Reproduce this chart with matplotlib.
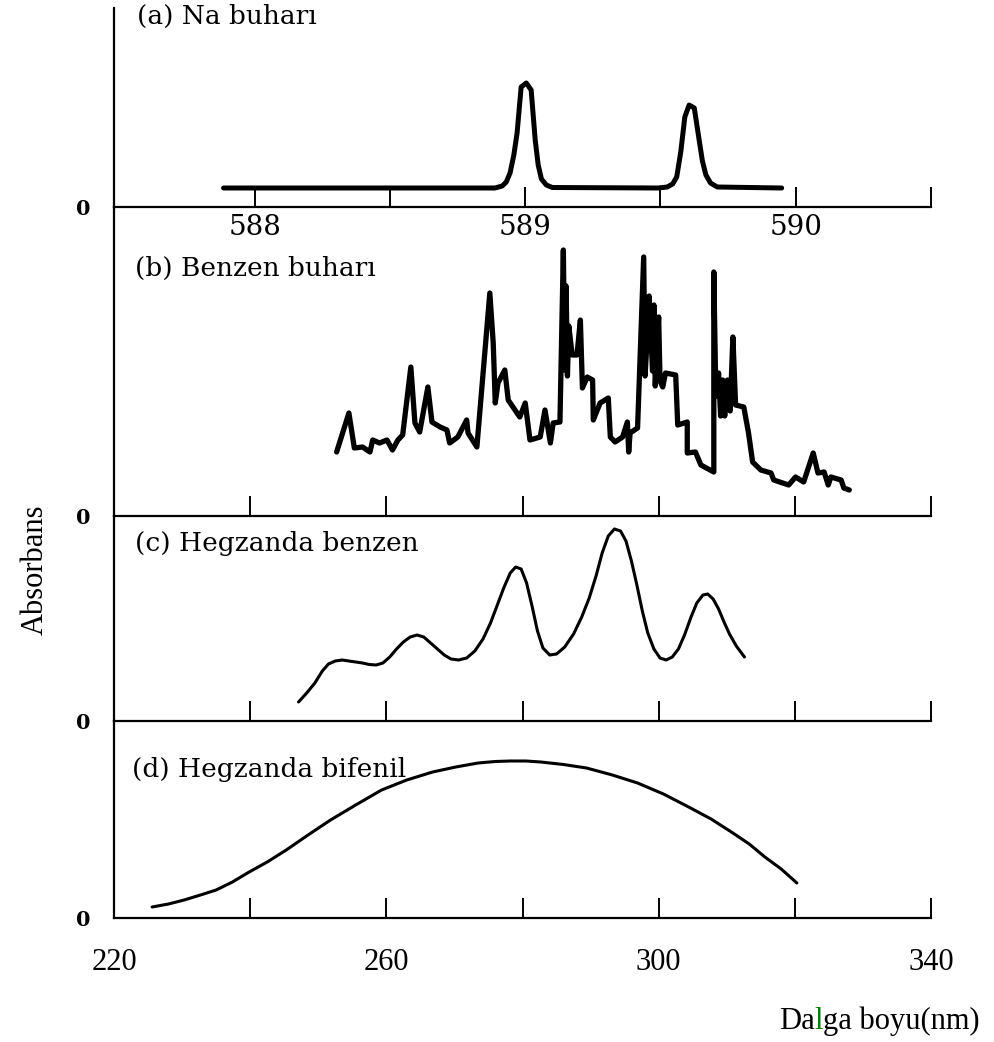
import matplotlib.pyplot as plt

# (a) Na buharı : dalga boyu (nm) / absorbans (keyfi birim)
na_dalga = [587.885, 588.888, 588.915, 588.930, 588.944, 588.958, 588.970, 588.985,
            589.004, 589.022, 589.037, 589.048, 589.060, 589.078, 589.100, 589.491,
            589.525, 589.545, 589.560, 589.575, 589.590, 589.606, 589.625, 589.643,
            589.655, 589.668, 589.685, 589.710, 589.948]
na_abs = [0.19, 0.19, 0.21, 0.25, 0.34, 0.52, 0.74, 1.20,
          1.24, 1.17, 0.67, 0.42, 0.28, 0.22, 0.195, 0.19,
          0.20, 0.23, 0.30, 0.55, 0.90, 1.02, 0.99, 0.67,
          0.46, 0.32, 0.24, 0.20, 0.19]

# (b) Benzen buharı
bb_dalga = [252.7, 254.5, 255.3, 256.5, 257.6, 258.0, 259.0, 260.1, 260.9, 261.7,
            262.4, 263.6, 264.2, 264.9, 266.1, 266.7, 267.9, 268.9, 269.3, 270.5,
            271.8, 272.0, 273.3, 275.2, 275.7, 276.0, 276.4, 277.4, 277.9, 278.6,
            279.6, 280.4, 281.1, 282.6, 283.3, 284.1, 284.5, 285.5, 286.0, 286.2,
            286.4, 286.6, 286.8, 287.3, 288.0, 288.5, 288.8, 289.5, 290.3, 290.4,
            291.4, 292.6, 292.9, 293.6, 294.7, 295.4, 295.6, 295.8, 296.9, 297.8,
            298.0, 298.3, 298.6, 299.1, 299.3, 299.5, 299.8, 300.0, 300.2, 300.6,
            301.0, 302.5, 302.8, 304.2, 304.2, 305.4, 306.2, 308.1, 308.1, 308.4,
            308.8, 309.1, 309.4, 309.7, 310.1, 310.5, 310.9, 311.3, 312.5, 313.2,
            313.8, 315.0, 316.5, 316.9, 319.1, 320.1, 321.3, 322.7, 323.4, 324.3,
            324.9, 325.3, 326.8, 327.2, 328.0]
bb_abs = [0.64, 1.03, 0.68, 0.69, 0.64, 0.76, 0.73, 0.76, 0.66, 0.76,
          0.81, 1.49, 0.93, 0.84, 1.29, 0.94, 0.89, 0.86, 0.73, 0.79,
          0.96, 0.83, 0.69, 2.23, 1.73, 1.13, 1.33, 1.46, 1.16, 1.09,
          0.99, 1.13, 0.76, 0.79, 1.06, 0.73, 0.93, 0.94, 2.66, 1.46,
          2.30, 1.40, 1.90, 1.61, 1.61, 1.96, 1.28, 1.39, 1.36, 0.96,
          1.13, 1.18, 0.79, 0.74, 0.79, 0.94, 0.64, 0.83, 0.88, 2.59,
          1.40, 1.76, 2.20, 1.45, 2.11, 1.30, 1.76, 1.99, 1.35, 1.29,
          1.43, 1.41, 0.91, 0.94, 0.63, 0.64, 0.51, 0.44, 2.44, 1.20,
          1.43, 1.00, 1.36, 1.00, 1.36, 1.05, 1.79, 1.11, 1.09, 0.83,
          0.54, 0.46, 0.43, 0.36, 0.31, 0.39, 0.34, 0.63, 0.43, 0.44,
          0.31, 0.39, 0.36, 0.28, 0.26]

# (c) Hegzanda benzen
hb_dalga = [247.1, 248.3, 249.5, 250.6, 251.5, 252.5, 253.5, 254.5, 255.5, 256.5,
            257.5, 258.5, 259.5, 260.5, 261.5, 262.5, 263.5, 264.5, 265.5, 266.5,
            267.5, 268.5, 269.5, 270.6, 271.8, 273.0, 274.2, 275.3, 276.3, 277.3,
            278.2, 279.0, 279.8, 280.6, 281.4, 282.2, 283.0, 284.0, 285.0, 286.2,
            287.5, 288.7, 289.8, 290.8, 291.7, 292.6, 293.5, 294.4, 295.2, 296.0,
            296.8, 297.6, 298.4, 299.3, 300.2, 301.1, 302.0, 302.9, 303.8, 304.7,
            305.6, 306.5, 307.2, 308.0, 308.8, 309.6, 310.4, 311.4, 312.6]
hb_abs = [0.19, 0.28, 0.38, 0.50, 0.57, 0.60, 0.61, 0.60, 0.59, 0.58,
          0.565, 0.56, 0.58, 0.64, 0.72, 0.79, 0.84, 0.86, 0.84, 0.78,
          0.72, 0.66, 0.62, 0.61, 0.63, 0.70, 0.82, 0.98, 1.16, 1.34,
          1.48, 1.54, 1.52, 1.38, 1.15, 0.90, 0.73, 0.66, 0.67, 0.74,
          0.87, 1.04, 1.23, 1.45, 1.68, 1.85, 1.92, 1.90, 1.80, 1.60,
          1.36, 1.10, 0.88, 0.72, 0.63, 0.61, 0.64, 0.72, 0.86, 1.03,
          1.18, 1.26, 1.27, 1.22, 1.12, 0.99, 0.87, 0.75, 0.64]

# (d) Hegzanda bifenil
hf_dalga = [225.6, 228.0, 230.3, 232.7, 235.0, 237.4, 239.6, 242.5, 245.3, 248.5,
            251.8, 255.5, 259.3, 263.0, 266.8, 270.2, 273.5, 276.0, 278.2, 280.5,
            282.7, 286.0, 289.4, 293.2, 296.9, 300.7, 304.4, 307.7, 310.9, 313.3,
            315.6, 318.0, 320.3]
hf_abs = [0.11, 0.14, 0.18, 0.23, 0.28, 0.36, 0.45, 0.56, 0.68, 0.83,
          0.98, 1.13, 1.28, 1.38, 1.46, 1.51, 1.55, 1.565, 1.57, 1.57,
          1.56, 1.535, 1.50, 1.43, 1.35, 1.24, 1.11, 0.99, 0.85, 0.74,
          0.61, 0.49, 0.35]

basliklar = ['(a) Na buharı', '(b) Benzen buharı', '(c) Hegzanda benzen', '(d) Hegzanda bifenil']
alt_etiketler = [220, 260, 300, 340]

W, H = 994, 1042
fig = plt.figure(figsize=(W / 100, H / 100), dpi=100)

def eksen(ust, alt, sol=114, sag=931):
    return fig.add_axes([sol / W, 1 - alt / H, (sag - sol) / W, (alt - ust) / H])

ax_a = eksen(8, 207)
ax_b = eksen(207, 516)
ax_c = eksen(516, 721)
ax_d = eksen(721, 918)

ax_a.plot(na_dalga, na_abs, color='black', lw=3.6, solid_joinstyle='round', solid_capstyle='round')
ax_b.plot(bb_dalga, bb_abs, color='black', lw=3.8, solid_joinstyle='round', solid_capstyle='round')
ax_c.plot(hb_dalga, hb_abs, color='black', lw=2.2, solid_joinstyle='round', solid_capstyle='round')
ax_d.plot(hf_dalga, hf_abs, color='black', lw=2.2, solid_joinstyle='round', solid_capstyle='round')

ax_a.set_xlim(587.48, 590.5)
ax_a.set_ylim(0, 1.99)
ax_a.set_xticks([588, 588.5, 589, 589.5, 590, 590.5])
ax_a.set_xticklabels(['588', '', '589', '', '590', ''], family='DejaVu Serif', fontsize=20)

for ax, ust in zip([ax_b, ax_c, ax_d], [3.09, 2.05, 1.97]):
    ax.set_xlim(220, 340)
    ax.set_ylim(0, ust)
    ax.set_xticks([240, 260, 280, 300, 320, 340])
    ax.set_xticklabels([])

for ax in [ax_a, ax_b, ax_c, ax_d]:
    ax.patch.set_alpha(0)
    ax.spines['top'].set_visible(False)
    ax.spines['right'].set_visible(False)
    ax.spines['left'].set_linewidth(1.6)
    ax.spines['bottom'].set_linewidth(1.6)
    ax.tick_params(axis='x', direction='in', length=14.5, width=1.4, pad=5)
    ax.set_yticks([0])
    ax.set_yticklabels(['0'], family='DejaVu Serif', fontweight='bold', fontsize=15)
    ax.tick_params(axis='y', length=0, pad=17)

# panel başlıkları
for b, (x, y) in zip(basliklar, [(137, 16), (135, 268), (135, 543), (132, 770)]):
    fig.text(x / W, 1 - y / H, b, family='DejaVu Serif', fontsize=19, ha='left', va='center')

# alt eksen etiketleri
for v in alt_etiketler:
    ax_d.annotate(str(v), xy=(v, 0), xycoords=('data', 'axes fraction'),
                  xytext=(0, -32), textcoords='offset points', ha='center', va='center',
                  family='Liberation Serif', fontsize=22, annotation_clip=False)

fig.text(35 / W, 1 - 570 / H, 'Absorbans', rotation=90, family='Liberation Serif',
         fontsize=22, ha='center', va='center')

t1 = fig.text(779 / W, 1 - 1036 / H, 'Da', family='Liberation Serif', fontsize=22,
              ha='left', va='bottom')
t2 = ax_d.annotate('l', xy=(1, 0), xycoords=t1, ha='left', va='bottom',
                   family='Liberation Serif', fontsize=22, color='#008000', annotation_clip=False)
ax_d.annotate('ga boyu(nm)', xy=(1, 0), xycoords=t2, ha='left', va='bottom',
              family='Liberation Serif', fontsize=22, annotation_clip=False)

fig.savefig('out.png', dpi=100)
